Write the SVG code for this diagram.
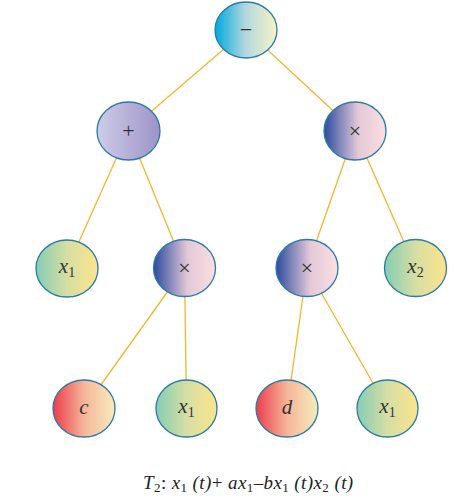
<svg xmlns="http://www.w3.org/2000/svg" width="463" height="502" viewBox="0 0 463 502">
<style>
.n{stroke:#2b7aa6;stroke-width:1.3}
.e{stroke:#f7b52a;stroke-width:1.3;fill:none}
.op{font-family:"Liberation Serif",serif;font-size:22px;fill:#333;text-anchor:middle}
.v{font-family:"Liberation Serif",serif;font-style:italic;font-size:21px;fill:#333;text-anchor:middle}
.s{font-style:normal;font-size:14px}
.cap{font-family:"Liberation Serif",serif;font-style:italic;font-size:19px;fill:#222;letter-spacing:0.4px}
.cs{font-style:normal;font-size:13px}
</style>
<defs>
<linearGradient id="gRoot" x1="0" x2="1" y1="0" y2="0"><stop offset="0" stop-color="#00a8de"/><stop offset="0.5" stop-color="#b5d8dd"/><stop offset="1" stop-color="#f7f3c6"/></linearGradient>
<linearGradient id="gPlus" x1="0" x2="1" y1="0" y2="0"><stop offset="0" stop-color="#cfcce9"/><stop offset="1" stop-color="#9c93c7"/></linearGradient>
<linearGradient id="gTimes" x1="0" x2="1" y1="0" y2="0"><stop offset="0" stop-color="#2a4b9e"/><stop offset="0.55" stop-color="#e3c8d8"/><stop offset="1" stop-color="#fbdfe1"/></linearGradient>
<linearGradient id="gX" x1="0" x2="1" y1="0" y2="0"><stop offset="0" stop-color="#84cdb4"/><stop offset="0.5" stop-color="#d6dea4"/><stop offset="1" stop-color="#fce48b"/></linearGradient>
<linearGradient id="gC" x1="0" x2="1" y1="0" y2="0"><stop offset="0" stop-color="#ec3c4b"/><stop offset="0.5" stop-color="#f6b59a"/><stop offset="1" stop-color="#f6ecbc"/></linearGradient>
</defs>
<g id="connectors">
<line class="e" x1="246" y1="30" x2="128.5" y2="131"/>
<line class="e" x1="246" y1="30" x2="355" y2="131"/>
<line class="e" x1="128.5" y1="131" x2="67" y2="268.5"/>
<line class="e" x1="128.5" y1="131" x2="184.5" y2="268"/>
<line class="e" x1="355" y1="131" x2="307" y2="268"/>
<line class="e" x1="355" y1="131" x2="415.5" y2="268"/>
<line class="e" x1="184.5" y1="268" x2="84" y2="408.5"/>
<line class="e" x1="184.5" y1="268" x2="186.5" y2="408.5"/>
<line class="e" x1="307" y1="268" x2="287" y2="408.5"/>
<line class="e" x1="307" y1="268" x2="387.5" y2="408.5"/>
</g>
<g id="root"><ellipse class="n" cx="246" cy="30" rx="31" ry="28" fill="url(#gRoot)"/><text class="op" x="246" y="37">−</text></g>
<g id="plus"><ellipse class="n" cx="128.5" cy="131" rx="31.5" ry="29" fill="url(#gPlus)"/><text class="op" x="128.5" y="138">+</text></g>
<g id="times1"><ellipse class="n" cx="355" cy="131" rx="31" ry="29" fill="url(#gTimes)"/><text class="op" x="355" y="138">×</text></g>
<g id="x1a"><ellipse class="n" cx="67" cy="268.5" rx="31" ry="28.5" fill="url(#gX)"/><text class="v" x="67" y="273">x<tspan class="s" dy="4">1</tspan></text></g>
<g id="times2"><ellipse class="n" cx="184.5" cy="268" rx="31" ry="28.5" fill="url(#gTimes)"/><text class="op" x="184.5" y="275">×</text></g>
<g id="times3"><ellipse class="n" cx="307" cy="268" rx="31" ry="28.5" fill="url(#gTimes)"/><text class="op" x="307" y="275">×</text></g>
<g id="x2"><ellipse class="n" cx="415.5" cy="268" rx="31" ry="28.5" fill="url(#gX)"/><text class="v" x="415.5" y="273">x<tspan class="s" dy="4">2</tspan></text></g>
<g id="c"><ellipse class="n" cx="84" cy="408.5" rx="31" ry="28.5" fill="url(#gC)"/><text class="v" x="84" y="414">c</text></g>
<g id="x1b"><ellipse class="n" cx="186.5" cy="408.5" rx="30.5" ry="28.5" fill="url(#gX)"/><text class="v" x="186.5" y="413">x<tspan class="s" dy="4">1</tspan></text></g>
<g id="d"><ellipse class="n" cx="287" cy="408.5" rx="31" ry="28.5" fill="url(#gC)"/><text class="v" x="287" y="414">d</text></g>
<g id="x1c"><ellipse class="n" cx="387.5" cy="408.5" rx="30.5" ry="28.5" fill="url(#gX)"/><text class="v" x="387.5" y="413">x<tspan class="s" dy="4">1</tspan></text></g>
<text class="cap" x="143" y="489">T<tspan class="cs" dy="3">2</tspan><tspan dy="-3" font-style="normal">: </tspan>x<tspan class="cs" dy="3">1</tspan><tspan dy="-3"> (t)</tspan><tspan font-style="normal">+ </tspan>ax<tspan class="cs" dy="3">1</tspan><tspan dy="-3" font-style="normal">–</tspan>bx<tspan class="cs" dy="3">1</tspan><tspan dy="-3"> (t)x</tspan><tspan class="cs" dy="3">2</tspan><tspan dy="-3"> (t)</tspan></text>
</svg>
